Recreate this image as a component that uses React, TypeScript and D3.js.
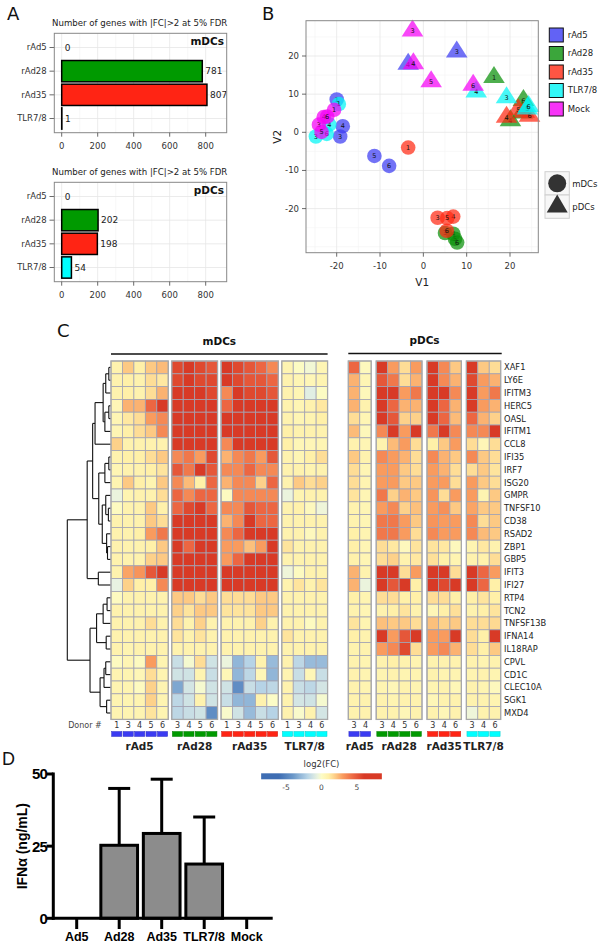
import React from 'react';
import * as d3 from 'd3';

// ---------- Panel A data ----------
const groups = ['rAd5', 'rAd28', 'rAd35', 'TLR7/8'];
const mdcGeneCounts = [0, 781, 807, 1];
const pdcGeneCounts = [0, 202, 198, 54];
const countTicks = [0, 200, 400, 600, 800];
const countMinor = [100, 300, 500, 700];
const barColors = ['#3b3bf2', '#009a00', '#ff2414', '#00ffff'];

// ---------- Panel B data ----------
const pcaGroups = ['rAd5', 'rAd28', 'rAd35', 'TLR7/8', 'Mock'];
const pcaColors = ['#3b3bf2', '#0a900a', '#ff2a14', '#00f5f5', '#f500f5'];
const mdcPoints: [string, number, number, number][] = [
  ['rAd5', 1, -20.0, 8.6], ['rAd5', 3, -19.2, -1.1], ['rAd5', 4, -18.6, 1.6], ['rAd5', 5, -11.3, -6.2], ['rAd5', 6, -7.9, -8.8],
  ['rAd28', 3, 5.0, -26.4], ['rAd28', 4, 6.9, -26.6], ['rAd28', 5, 7.3, -27.9], ['rAd28', 6, 7.8, -28.9],
  ['rAd35', 1, -3.5, -4.0], ['rAd35', 3, 3.3, -22.4], ['rAd35', 4, 6.9, -22.1], ['rAd35', 5, 5.5, -22.5], ['rAd35', 6, 5.4, -25.8],
  ['TLR7/8', 1, -19.5, 7.4], ['TLR7/8', 3, -24.8, -1.1], ['TLR7/8', 4, -21.7, 2.0], ['TLR7/8', 6, -22.3, -0.4],
  ['Mock', 1, -20.6, 5.9], ['Mock', 3, -24.1, 2.0], ['Mock', 4, -23.0, 4.0], ['Mock', 5, -23.5, 0.1], ['Mock', 6, -22.2, 4.1],
];
const pdcPoints: [string, number, number, number][] = [
  ['rAd5', 3, 7.7, 21.3], ['rAd5', 4, -3.5, 18.1],
  ['rAd28', 1, 16.3, 14.6], ['rAd28', 6, 23.1, 8.6], ['rAd28', 5, 22.8, 5.3], ['rAd28', 4, 20.1, 3.3],
  ['rAd35', 3, 23.3, 5.5], ['rAd35', 6, 24.5, 4.5], ['rAd35', 5, 21.9, 6.2], ['rAd35', 4, 19.2, 4.2],
  ['TLR7/8', 3, 19.2, 9.3], ['TLR7/8', 4, 12.2, 10.8], ['TLR7/8', 5, 24.0, 6.4], ['TLR7/8', 6, 24.3, 7.0],
  ['Mock', 3, -2.5, 26.8], ['Mock', 4, -2.3, 18.2], ['Mock', 5, 1.8, 13.5], ['Mock', 6, 11.5, 12.6],
];
const pcaTicks = [-20, -10, 0, 10, 20];
const pcaMinor = [-25, -15, -5, 5, 15, 25];

// ---------- Panel C data ----------
const genes = ['XAF1', 'LY6E', 'IFITM3', 'HERC5', 'OASL', 'IFITM1', 'CCL8', 'IFI35', 'IRF7', 'ISG20', 'GMPR',
  'TNFSF10', 'CD38', 'RSAD2', 'ZBP1', 'GBP5', 'IFIT3', 'IFI27', 'RTP4', 'TCN2', 'TNFSF13B', 'IFNA14', 'IL18RAP',
  'CPVL', 'CD1C', 'CLEC10A', 'SGK1', 'MXD4'];
const mdcDonors = [[1, 3, 4, 5, 6], [3, 4, 5, 6], [1, 3, 4, 5, 6], [1, 3, 4, 6]];
const pdcDonors = [[3, 4], [3, 4, 5, 6], [3, 4, 6], [3, 4, 6]];
// columns: rAd5(1,3,4,5,6) rAd28(3,4,5,6) rAd35(1,3,4,5,6) TLR7/8(1,3,4,6)
const mdcLogFC = [
  [0.8, 2.0, 1.0, 2.0, 2.3, 5.5, 6.5, 5.5, 5.0, 6.5, 5.5, 5.0, 4.5, 3.5, 0.7, 0.1, -0.3, 0.6],
  [0.8, 1.0, 0.8, 1.5, 1.2, 5.5, 6.5, 5.5, 5.5, 6.5, 5.5, 5.0, 5.0, 4.5, 0.8, 0.6, 0.5, 0.7],
  [0.8, 1.0, 0.8, 1.5, 2.5, 6.5, 6.5, 6.5, 5.5, 3.5, 6.5, 5.5, 5.5, 5.0, 0.8, 0.6, -0.8, 0.1],
  [0.5, 2.5, 2.5, 4.5, 6.0, 6.5, 6.5, 6.5, 6.5, 4.5, 6.5, 6.5, 6.5, 6.5, 0.8, 0.6, 0.8, 1.2],
  [0.6, 1.2, 1.5, 3.0, 3.5, 6.5, 6.5, 6.5, 6.5, 6.5, 6.5, 6.5, 6.5, 6.5, 0.8, 0.6, 0.7, 1.0],
  [0.6, 1.0, 1.5, 2.0, 3.5, 6.5, 6.5, 6.5, 6.5, 6.5, 6.5, 6.5, 6.5, 6.5, 1.0, 0.8, 0.8, 0.8],
  [1.8, 0.8, 0.8, 0.8, 0.8, 6.5, 6.5, 6.5, 6.5, 3.5, 6.5, 6.5, 6.5, 6.5, 1.0, 0.5, 0.5, 0.6],
  [0.8, 1.0, 1.0, 1.5, 2.0, 3.5, 4.0, 3.0, 5.5, 2.5, 3.5, 4.0, 3.0, 5.0, 0.8, 0.6, 1.0, 1.5],
  [0.6, 0.8, 0.8, 1.0, 1.3, 5.0, 4.0, 6.0, 5.0, 3.5, 3.5, 4.5, 3.5, 3.5, 0.8, 0.8, 0.7, 0.8],
  [0.7, 2.0, 1.0, 0.7, 2.0, 3.5, 2.3, 1.0, 4.5, 2.5, 3.5, 3.5, 1.8, 4.5, 0.8, 2.0, 1.5, 1.8],
  [-0.5, 0.7, 0.8, 0.8, 1.5, 4.5, 3.5, 4.5, 4.5, 0.2, 3.5, 3.5, 3.5, 3.5, -0.5, 0.7, 0.8, 0.8],
  [0.2, 0.8, 0.8, 2.0, 0.9, 4.5, 5.5, 6.0, 4.5, 3.5, 3.5, 5.0, 4.5, 4.5, 0.8, 0.9, 0.3, -0.4],
  [0.8, 0.8, 0.8, 2.0, 1.5, 6.0, 6.0, 6.5, 6.0, 2.5, 3.5, 6.0, 4.5, 4.5, 0.8, 0.8, 0.8, 0.8],
  [0.8, 0.8, 1.0, 3.0, 4.0, 6.5, 6.5, 6.5, 6.5, 3.5, 4.5, 6.0, 6.5, 6.0, 0.8, 0.8, 0.3, 0.8],
  [0.8, 0.8, 0.8, 1.0, 2.0, 6.0, 4.5, 6.0, 6.0, 3.0, 3.0, 2.2, 3.0, 6.0, 1.3, 0.8, 0.8, 0.8],
  [0.8, 0.8, 0.8, 1.8, 2.0, 6.5, 6.5, 6.5, 6.5, 3.0, 4.5, 6.5, 6.5, 6.5, 0.8, 0.8, 0.8, 0.8],
  [0.8, 2.8, 3.2, 5.0, 6.0, 6.5, 6.5, 6.5, 6.5, 6.5, 6.5, 6.5, 6.5, 6.5, -0.4, 0.2, 0.8, 0.8],
  [-0.6, 1.8, 1.0, 1.0, 3.5, 6.5, 6.5, 6.5, 6.5, 6.5, 6.5, 6.5, 6.5, 6.5, 0.8, 1.3, 0.8, 1.3],
  [0.2, 0.8, 0.8, 0.8, 0.8, 2.0, 2.0, 1.5, 2.0, 1.5, 1.5, 1.5, 2.0, 2.0, 0.8, 0.8, 0.8, 0.8],
  [0.8, 0.8, 0.8, 0.8, 0.8, 1.8, 1.3, 2.0, 2.0, 1.3, 1.3, 1.3, 2.0, 2.0, 0.8, 0.8, 0.8, 0.8],
  [0.8, 0.8, 0.8, 1.5, 0.8, 1.5, 0.8, 1.8, 0.8, 0.8, 0.8, 0.8, 1.8, 0.8, 0.8, 0.8, 0.2, 0.8],
  [0.8, 0.8, 0.8, 0.8, 0.8, 1.3, 0.8, 1.3, 0.8, 0.8, 0.8, 0.8, 0.8, 0.8, 1.3, 0.8, 0.8, 0.8],
  [0.8, 0.7, 0.8, 0.8, 0.8, 0.8, 0.8, 0.8, 0.8, 0.8, 0.8, 0.8, 0.8, 0.8, 0.8, 0.8, 0.8, 0.8],
  [0.2, 0.6, 0.2, 3.0, 0.7, -1.5, -0.2, 1.5, -1.3, -0.5, -3.0, -2.0, 0.8, -2.8, 0.8, -1.8, -2.8, -2.8],
  [0.7, 0.7, 0.5, 1.5, 0.7, -1.3, -1.3, 0.7, -1.5, 0.5, -3.0, -1.8, 0.5, -3.0, 0.7, -1.5, 0.5, -1.5],
  [0.7, 0.7, 0.2, 1.8, 0.7, -3.5, -1.2, -0.2, -1.3, -1.3, -4.5, -1.5, -2.0, -1.8, 0.8, -1.5, -1.8, -1.2],
  [0.7, 0.7, 0.7, 1.8, 0.7, -1.8, -1.3, 0.8, -1.3, -1.5, -3.0, -3.0, 0.8, 0.0, 0.8, -1.2, -1.3, -0.2],
  [0.7, 0.7, 0.7, 1.3, 0.7, -1.8, -1.5, -1.3, -4.5, -0.1, -1.3, -2.8, -1.5, -2.0, 0.8, -0.1, 0.8, -1.2],
];
// columns: rAd5(3,4) rAd28(3,4,5,6) rAd35(3,4,6) TLR7/8(3,4,6)
const pdcLogFC = [
  [4.5, 0.3, 6.5, 3.0, 1.5, 3.0, 6.5, 3.5, 2.0, 6.5, 2.0, 1.5],
  [2.5, 0.6, 5.0, 4.0, 1.5, 2.5, 6.0, 3.5, 2.5, 5.5, 3.0, 2.5],
  [2.5, 0.4, 6.5, 6.5, 3.0, 4.0, 6.5, 6.5, 3.5, 6.5, 3.0, 4.0],
  [2.5, 0.8, 6.5, 4.5, 2.5, 2.5, 6.5, 4.5, 2.5, 6.5, 3.0, 2.5],
  [1.5, 0.6, 6.5, 5.0, 1.8, 1.8, 6.5, 4.5, 2.3, 4.5, 2.5, 1.8],
  [2.3, 0.4, 3.5, 6.5, 3.0, 6.5, 4.0, 6.5, 3.5, 3.5, 3.5, 6.5],
  [0.8, 0.6, 0.8, 2.3, 3.0, 1.5, 1.0, 2.0, 3.0, 1.5, 0.5, 1.5],
  [2.0, 0.8, 3.5, 3.0, 2.5, 1.5, 3.5, 2.5, 2.0, 3.5, 2.0, 1.5],
  [1.5, 0.6, 3.0, 3.0, 2.0, 1.5, 3.0, 2.5, 1.5, 1.5, 2.0, 1.3],
  [1.5, 0.7, 3.0, 3.0, 2.0, 2.0, 3.0, 3.0, 1.5, 3.0, 2.0, 1.5],
  [1.3, 0.6, 4.0, 1.8, 2.5, 2.0, 3.2, 1.5, 3.0, 3.0, 0.7, 2.0],
  [0.8, 0.6, 3.0, 3.5, 1.8, 2.2, 3.0, 3.3, 2.0, 2.8, 2.0, 2.0],
  [0.8, 0.6, 4.0, 4.0, 3.0, 2.0, 3.2, 3.0, 3.0, 3.5, 1.5, 2.0],
  [1.0, 0.7, 4.0, 4.0, 3.0, 1.5, 3.5, 3.0, 3.0, 3.5, 2.3, 2.0],
  [1.0, 0.6, 1.5, 1.2, 0.3, 1.3, 1.3, 1.2, 0.3, 0.7, 1.2, 0.8],
  [0.9, 0.6, 1.5, 1.8, 0.8, 1.2, 1.4, 1.0, 0.7, 0.8, 0.9, 1.5],
  [2.5, 0.8, 6.5, 6.5, 1.5, 3.0, 6.5, 6.5, 1.5, 6.5, 4.5, 3.0],
  [2.5, -0.5, 6.5, 5.0, 6.5, 1.0, 6.5, 5.5, 6.5, 6.5, 4.5, 1.0],
  [1.0, 0.7, 1.5, 1.5, 1.0, 1.0, 1.5, 1.5, 1.0, 1.0, 1.3, 1.0],
  [0.8, 0.6, 0.8, 1.0, 1.3, 0.8, 0.5, 1.0, 1.4, 0.8, 1.0, 1.3],
  [1.3, 0.7, 2.2, 2.0, 2.0, 1.5, 2.2, 1.8, 2.0, 1.5, 1.5, 1.6],
  [1.0, 0.8, 6.5, 3.0, 5.0, 6.0, 3.0, 3.0, 6.5, 1.5, 1.0, 6.5],
  [0.8, 0.8, 3.0, 3.5, 5.5, 1.5, 3.0, 3.5, 2.5, 1.5, 1.0, 2.0],
  [0.8, 0.7, 0.8, 1.0, 0.8, 0.7, 0.8, 0.8, 0.8, 0.8, 0.7, 0.8],
  [0.8, 0.7, 0.7, 0.8, 0.7, 0.7, 0.8, 0.7, 0.7, 0.7, 0.8, 0.7],
  [0.8, 0.7, 0.7, 0.5, 0.8, 0.7, 0.7, 0.8, 0.5, 0.8, 0.7, 0.3],
  [0.8, 0.8, 0.8, 0.7, 0.8, 0.8, 0.5, 0.8, 0.8, 0.8, 0.8, 0.7],
  [0.8, 0.8, 0.8, 0.8, 0.5, 0.8, 0.8, 0.5, 0.8, -0.4, 0.8, 0.8],
];
type DNode = number | { h: number; c: DNode[] };
const n = (h: number, c: DNode[]): DNode => ({ h, c });
const dendroTree: DNode = n(10, [
  n(5.45, [
    n(4.2, [
      n(3.65, [n(1.8, [n(1.2, [n(0.5, [0, 1]), 2]), n(1.4, [n(0.5, [3, 4]), 5])]), 6]),
      n(2.8, [n(1.4, [n(0.5, [7, 8]), 9]), n(2.0, [n(1.2, [10, n(0.6, [11, 12])]), n(1.0, [13, n(0.8, [14, 15])])])]),
    ]),
    n(2.9, [16, 17]),
  ]),
  n(4.8, [
    n(3.3, [n(1.8, [n(0.9, [18, 19]), 20]), n(1.1, [21, 22])]),
    n(2.5, [n(1.6, [n(1.2, [23, 24]), 25]), n(1.0, [26, 27])]),
  ]),
]);
const legendTicks = [-5, 0, 5];

// ---------- Panel D data ----------
const ifnCategories = ['Ad5', 'Ad28', 'Ad35', 'TLR7/8', 'Mock'];
const ifnMeans = [0, 25.3, 29.4, 18.8, 0];
const ifnSD = [0, 19.7, 18.8, 16.3, 0];
const ifnTicks = [0, 25, 50];

const heat = d3.scaleLinear<string>()
  .domain([-6, -4, -2, -0.6, 0, 1, 2, 3, 4.5, 6])
  .range(['#3e6db3', '#6b98c9', '#b6d3e6', '#e8f2e2', '#fcfcc6', '#fff0a8', '#fdc983', '#f99b5e', '#ec6642', '#d83a26'])
  .clamp(true);

const SANS = 'DejaVu Sans';
const ARIAL = 'Liberation Sans';

function CountPanel({ counts, y0, y1, label }: { counts: number[]; y0: number; y1: number; label: string }) {
  const x0 = 54.3, x1 = 226.7;
  const x = d3.scaleLinear().domain([0, 800]).range([61.7, 205.7]);
  const y = d3.scalePoint<string>().domain(groups).range([y0, y1]).padding(0.6);
  const bh = y.step() * 0.9;
  return (
    <g>
      <text x={52} y={y0 - 7} fontSize={8.6} fill="#222">Number of genes with |FC|&gt;2 at 5% FDR</text>
      <rect x={x0} y={y0} width={x1 - x0} height={y1 - y0} fill="#fff" />
      {countMinor.map(t => <line key={'m' + t} x1={x(t)} x2={x(t)} y1={y0} y2={y1} stroke="#f3f3f3" strokeWidth={0.6} />)}
      {countTicks.map(t => <line key={'g' + t} x1={x(t)} x2={x(t)} y1={y0} y2={y1} stroke="#e6e6e6" strokeWidth={0.8} />)}
      {groups.map(g => <line key={'h' + g} x1={x0} x2={x1} y1={y(g)!} y2={y(g)!} stroke="#e6e6e6" strokeWidth={0.8} />)}
      {groups.map((g, i) => (
        <g key={g}>
          <rect x={x(0)} y={y(g)! - bh / 2} width={Math.max(0, x(counts[i]) - x(0))} height={bh}
            fill={barColors[i]} stroke="#000" strokeWidth={1.5} />
          <text x={x(counts[i]) + 3} y={y(g)!} dy="0.35em" fontSize={9} fill="#222">{counts[i]}</text>
          <text x={46.7} y={y(g)!} dy="0.35em" fontSize={8.5} textAnchor="end" fill="#333">{g}</text>
          <line x1={49.5} x2={x0} y1={y(g)!} y2={y(g)!} stroke="#444" strokeWidth={0.8} />
        </g>
      ))}
      <rect x={x0} y={y0} width={x1 - x0} height={y1 - y0} fill="none" stroke="#888" strokeWidth={1} />
      {countTicks.map(t => (
        <g key={'t' + t}>
          <line x1={x(t)} x2={x(t)} y1={y1} y2={y1 + 4} stroke="#444" strokeWidth={0.8} />
          <text x={x(t)} y={y1 + 16} fontSize={8.5} textAnchor="middle" fill="#333">{t}</text>
        </g>
      ))}
      <text x={224} y={y0 + 11.5} fontSize={10.5} fontWeight="bold" textAnchor="end" fill="#111">{label}</text>
    </g>
  );
}

function PcaPanel() {
  const bx0 = 306, bx1 = 538.3, by0 = 20.7, by1 = 252.7;
  const x = d3.scaleLinear().domain([-20, 20]).range([336.7, 510]);
  const y = d3.scaleLinear().domain([-20, 20]).range([208.6, 56]);
  const col = (g: string) => pcaColors[pcaGroups.indexOf(g)];
  const tri = 'M0,-10.5L10.8,6.5L-10.8,6.5Z';
  const order = ['rAd5', 'rAd28', 'rAd35', 'TLR7/8', 'Mock'];
  const pts = [...mdcPoints.map(p => ({ p, s: 'c' })), ...pdcPoints.map(p => ({ p, s: 't' }))];
  pts.sort((a, b) => order.indexOf(a.p[0]) - order.indexOf(b.p[0]));
  return (
    <g>
      <rect x={bx0} y={by0} width={bx1 - bx0} height={by1 - by0} fill="#fff" />
      {pcaMinor.map(t => <line key={'mx' + t} x1={x(t)} x2={x(t)} y1={by0} y2={by1} stroke="#f3f3f3" strokeWidth={0.6} />)}
      {[...pcaMinor, -30].filter(t => y(t) > by0 && y(t) < by1).map(t => <line key={'my' + t} x1={bx0} x2={bx1} y1={y(t)} y2={y(t)} stroke="#f3f3f3" strokeWidth={0.6} />)}
      {pcaTicks.map(t => <line key={'gx' + t} x1={x(t)} x2={x(t)} y1={by0} y2={by1} stroke="#e6e6e6" strokeWidth={0.8} />)}
      {pcaTicks.map(t => <line key={'gy' + t} x1={bx0} x2={bx1} y1={y(t)} y2={y(t)} stroke="#e6e6e6" strokeWidth={0.8} />)}
      {pts.map(({ p, s }, i) => (
        <g key={i} transform={`translate(${x(p[2])},${y(p[3])})`}>
          {s === 'c'
            ? <circle r={7.3} fill={col(p[0])} fillOpacity={0.72} />
            : <path d={tri} fill={col(p[0])} fillOpacity={0.72} />}
          <text y={s === 'c' ? 0 : 1} dy="0.35em" fontSize={6.5} textAnchor="middle" fill="#111">{p[1]}</text>
        </g>
      ))}
      <rect x={bx0} y={by0} width={bx1 - bx0} height={by1 - by0} fill="none" stroke="#888" strokeWidth={1} />
      {pcaTicks.map(t => (
        <g key={'tx' + t}>
          <line x1={x(t)} x2={x(t)} y1={by1} y2={by1 + 4} stroke="#444" strokeWidth={0.8} />
          <text x={x(t)} y={by1 + 16} fontSize={8.5} textAnchor="middle" fill="#333">{t}</text>
          <line x1={bx0 - 4} x2={bx0} y1={y(t)} y2={y(t)} stroke="#444" strokeWidth={0.8} />
          <text x={bx0 - 7} y={y(t)} dy="0.35em" fontSize={8.5} textAnchor="end" fill="#333">{t}</text>
        </g>
      ))}
      <text x={(bx0 + bx1) / 2} y={286} fontSize={10.5} textAnchor="middle" fill="#222">V1</text>
      <text transform={`translate(281,${(by0 + by1) / 2}) rotate(-90)`} fontSize={10.5} textAnchor="middle" fill="#222">V2</text>
      {pcaGroups.map((g, i) => {
        const ly = 35 + i * 18.5;
        return (
          <g key={g}>
            <rect x={549.3} y={ly - 7} width={14} height={14} fill={pcaColors[i]} fillOpacity={0.8} stroke="#111" strokeWidth={1} />
            <text x={567.7} y={ly} dy="0.35em" fontSize={8.5} fill="#222">{g}</text>
          </g>
        );
      })}
      <rect x={545} y={171.7} width={24.3} height={23.3} fill="#f7f7f7" stroke="#cfcfcf" strokeWidth={1} />
      <rect x={545} y={195} width={24.3} height={23.3} fill="#f7f7f7" stroke="#cfcfcf" strokeWidth={1} />
      <circle cx={557.2} cy={183.3} r={9} fill="#333" />
      <path d="M0,-11L10.5,7L-10.5,7Z" transform="translate(557.2,205.5)" fill="#333" />
      <text x={572.3} y={184.3} dy="0.35em" fontSize={8.5} fill="#222">mDCs</text>
      <text x={572.3} y={207.5} dy="0.35em" fontSize={8.5} fill="#222">pDCs</text>
    </g>
  );
}

function layoutDendro(node: DNode, yOf: (i: number) => number, xOf: (h: number) => number, segs: number[][]): { x: number; y: number } {
  if (typeof node === 'number') return { x: xOf(0), y: yOf(node) };
  const kids = node.c.map(k => layoutDendro(k, yOf, xOf, segs));
  const x = xOf(node.h);
  const ys = kids.map(k => k.y);
  const lo = d3.min(ys)!, hi = d3.max(ys)!;
  segs.push([x, lo, x, hi]);
  kids.forEach(k => segs.push([x, k.y, k.x, k.y]));
  return { x, y: (lo + hi) / 2 };
}

function HeatBlock({ values, donors, x0, cellW, gap, y }: {
  values: number[][]; donors: number[][]; x0: number; cellW: number; gap: number; y: d3.ScaleBand<string>;
}) {
  const cols: { g: number; d: number; x: number }[] = [];
  let k = 0;
  donors.forEach((ds, gi) => ds.forEach(d => { cols.push({ g: gi, d, x: x0 + k * cellW + gi * gap }); k++; }));
  const bw = y.bandwidth();
  const top = y.range()[0], bottom = y.range()[1];
  const blocks = donors.map((ds, gi) => {
    const cs = cols.filter(c => c.g === gi);
    return { gi, xs: cs[0].x, xe: cs[cs.length - 1].x + cellW };
  });
  return (
    <g>
      {genes.map((gn, ri) => cols.map((c, ci) => (
        <rect key={gn + ci} x={c.x} y={y(gn)!} width={cellW} height={bw}
          fill={heat(values[ri][ci])} stroke="#a3a3b3" strokeWidth={0.8} />
      )))}
      {blocks.map(b => (
        <rect key={'b' + b.gi} x={b.xs} y={top} width={b.xe - b.xs} height={bottom - top} fill="none" stroke="#a8a8a8" strokeWidth={1.3} />
      ))}
      {cols.map((c, ci) => (
        <g key={'d' + ci}>
          <text x={c.x + cellW / 2} y={728} fontSize={8} textAnchor="middle" fill="#333">{c.d}</text>
          <rect x={c.x + 0.6} y={731.5} width={cellW - 1.2} height={5} fill={barColors[c.g]} stroke={d3.color(barColors[c.g])!.darker(0.6).toString()} strokeWidth={0.5} />
        </g>
      ))}
      {blocks.map(b => (
        <text key={'l' + b.gi} x={(b.xs + b.xe) / 2} y={750} fontSize={10.5} fontWeight="bold" textAnchor="middle" fill="#222">{groups[b.gi]}</text>
      ))}
    </g>
  );
}

function HeatmapPanel() {
  const y = d3.scaleBand<string>().domain(genes).range([361, 719.4]);
  const yOf = (i: number) => y(genes[i])! + y.bandwidth() / 2;
  const xOf = d3.scaleLinear().domain([0, 10]).range([111, 67.3]);
  const segs: number[][] = [];
  layoutDendro(dendroTree, yOf, xOf, segs);
  const mx0 = 111, mW = 11.45, mGap = 3.5;
  const px0 = 348.3, pGap = 5;
  const mEnd = mx0 + 18 * mW + 3 * mGap;
  const pEnd = px0 + 12 * mW + 3 * pGap;
  const lx = d3.scaleLinear().domain([-5, 5]).range([286, 357]);
  const gradStops = d3.range(-8.5, 8.51, 0.5);
  return (
    <g>
      {segs.map((s, i) => <line key={i} x1={s[0]} y1={s[1]} x2={s[2]} y2={s[3]} stroke="#111" strokeWidth={1.1} />)}
      <text x={(mx0 + mEnd) / 2} y={345} fontSize={10.5} fontWeight="bold" textAnchor="middle" fill="#111">mDCs</text>
      <line x1={mx0} x2={mEnd} y1={354} y2={354} stroke="#111" strokeWidth={1.3} />
      <text x={(px0 + pEnd) / 2} y={344} fontSize={10.5} fontWeight="bold" textAnchor="middle" fill="#111">pDCs</text>
      <line x1={px0} x2={pEnd + 1} y1={353.5} y2={353.5} stroke="#111" strokeWidth={1.3} />
      <HeatBlock values={mdcLogFC} donors={mdcDonors} x0={mx0} cellW={mW} gap={mGap} y={y} />
      <HeatBlock values={pdcLogFC} donors={pdcDonors} x0={px0} cellW={mW} gap={pGap} y={y} />
      {genes.map(g => (
        <text key={g} x={504} y={y(g)! + y.bandwidth() / 2} dy="0.35em" fontSize={8.3} fill="#222">{g}</text>
      ))}
      <text x={101.7} y={728} fontSize={8} textAnchor="end" fill="#444">Donor #</text>
      <defs>
        <linearGradient id="lg" x1="0" x2="1" y1="0" y2="0">
          {gradStops.map((v, i) => (
            <stop key={i} offset={`${(i / (gradStops.length - 1)) * 100}%`} stopColor={heat(v)} />
          ))}
        </linearGradient>
      </defs>
      <text x={lx(0)} y={767} fontSize={8.5} textAnchor="middle" fill="#333">log2(FC)</text>
      <rect x={lx(-8.5)} y={773.3} width={lx(8.5) - lx(-8.5)} height={6} fill="url(#lg)" />
      {legendTicks.map(t => (
        <text key={t} x={lx(t)} y={789.5} fontSize={7.5} textAnchor="middle" fill="#444">{t}</text>
      ))}
    </g>
  );
}

function IfnPanel() {
  const y = d3.scaleLinear().domain([0, 50]).range([918.3, 774]);
  const x = d3.scalePoint<string>().domain(ifnCategories).range([76.7, 246.7]);
  const bw = 36.7;
  const capW = 22;
  return (
    <g fontFamily={ARIAL} fontWeight="bold">
      {ifnCategories.map((c, i) => {
        const cx = x(c)!;
        const top = y(ifnMeans[i]);
        const errTop = y(ifnMeans[i] + ifnSD[i]);
        return (
          <g key={c}>
            {ifnSD[i] > 0 && (
              <g>
                <line x1={cx} x2={cx} y1={top} y2={errTop} stroke="#000" strokeWidth={3} />
                <line x1={cx - capW / 2} x2={cx + capW / 2} y1={errTop} y2={errTop} stroke="#000" strokeWidth={3} />
              </g>
            )}
            {ifnMeans[i] > 0 && (
              <rect x={cx - bw / 2} y={top} width={bw} height={y(0) - top} fill="#8c8c8c" stroke="#000" strokeWidth={3} />
            )}
            <line x1={cx} x2={cx} y1={918.3} y2={929} stroke="#000" strokeWidth={3} />
            <text x={cx} y={940.5} fontSize={12.5} textAnchor="middle" fill="#000">{c}</text>
          </g>
        );
      })}
      <line x1={53.3} x2={53.3} y1={772.5} y2={919.8} stroke="#000" strokeWidth={3} />
      <line x1={51.8} x2={272.7} y1={918.3} y2={918.3} stroke="#000" strokeWidth={3} />
      {ifnTicks.map(t => (
        <g key={t}>
          <line x1={46.5} x2={53.3} y1={y(t)} y2={y(t)} stroke="#000" strokeWidth={3} />
          <text x={47} y={y(t)} dy="0.36em" fontSize={15} textAnchor="end" letterSpacing={-0.8} fill="#000">{t}</text>
        </g>
      ))}
      <text transform={`translate(27,${y(25)}) rotate(-90)`} fontSize={14} textAnchor="middle" fill="#000">IFNα (ng/mL)</text>
    </g>
  );
}

export default function App() {
  return (
    <svg width={603} height={948} viewBox="0 0 603 948"
      style={{ position: 'absolute', left: 0, top: 0, display: 'block', background: '#fff' }}
      fontFamily={SANS}>
      <rect width={603} height={948} fill="#fff" />
      <text x={7} y={20} fontSize={18} fill="#111">A</text>
      <text x={262} y={20} fontSize={18} fill="#111">B</text>
      <text x={57} y={337} fontSize={18} fill="#111">C</text>
      <text x={2} y={765} fontSize={18} fill="#111" fontFamily={ARIAL}>D</text>
      <CountPanel counts={mdcGeneCounts} y0={33.3} y1={132.7} label="mDCs" />
      <CountPanel counts={pdcGeneCounts} y0={182.3} y1={281.7} label="pDCs" />
      <PcaPanel />
      <HeatmapPanel />
      <IfnPanel />
    </svg>
  );
}
